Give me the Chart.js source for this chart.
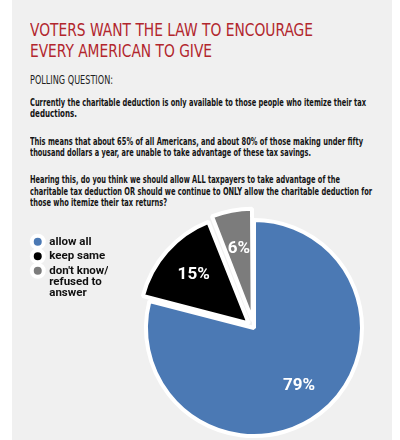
<!DOCTYPE html>
<html>
<head>
<meta charset="utf-8">
<script src="https://cdn.jsdelivr.net/npm/chart.js@4.4.1/dist/chart.umd.min.js"></script>
<style>
  html, body { margin: 0; padding: 0; background: #fff; }
  body { width: 400px; height: 440px; position: relative; overflow: hidden; }
  .panel { position: absolute; left: 12px; top: 0; width: 380px; height: 440px; background: #f0f0f0; }
  .ln { position: absolute; left: 30px; white-space: nowrap; transform-origin: 0 50%; }
  .ln span { display: inline-block; }
  .title { font-family: "Liberation Sans Narrow", "DejaVu Sans Condensed", "Liberation Sans", sans-serif;
           font-size: 17.5px; height: 20px; line-height: 20px; color: #b2262d; }
  .kicker { font-family: "Liberation Sans Narrow", "DejaVu Sans Condensed", "Liberation Sans", sans-serif;
            font-size: 11.5px; height: 14px; line-height: 14px; color: #222; }
  .body { font-family: "Liberation Sans Narrow", "DejaVu Sans Condensed", "Liberation Sans", sans-serif;
          font-weight: bold; font-size: 11px; height: 12px; line-height: 12px; color: #141414; }
  #pie { position: absolute; left: 0; top: 200px; }
</style>
</head>
<body>
<div class="panel"></div>

<div class="ln title" style="top:20px" data-w="283"><span>VOTERS WANT THE LAW TO ENCOURAGE</span></div>
<div class="ln title" style="top:41px" data-w="182"><span>EVERY AMERICAN TO GIVE</span></div>
<div class="ln kicker" style="top:73px" data-w="83"><span>POLLING QUESTION:</span></div>

<div class="ln body" style="top:97px" data-w="336"><span>Currently the charitable deduction is only available to those people who itemize their tax</span></div>
<div class="ln body" style="top:108px" data-w="47"><span>deductions.</span></div>

<div class="ln body" style="top:136px" data-w="333"><span>This means that about 65% of all Americans, and about 80% of those making under fifty</span></div>
<div class="ln body" style="top:147px" data-w="281"><span>thousand dollars a year, are unable to take advantage of these tax savings.</span></div>

<div class="ln body" style="top:174px" data-w="310"><span>Hearing this, do you think we should allow ALL taxpayers to take advantage of the</span></div>
<div class="ln body" style="top:186px" data-w="342"><span>charitable tax deduction OR should we continue to ONLY allow the charitable deduction for</span></div>
<div class="ln body" style="top:197px" data-w="137"><span>those who itemize their tax returns?</span></div>

<canvas id="pie" width="400" height="240"></canvas>

<script>
// poll answers (legend text, one entry per slice)
const answers = ['allow all', 'keep same', ["don't know/", 'refused to', 'answer']];
// share of respondents, percent
const shares = [79, 15, 6];

// squeeze each text line to the width it has in the original
function fitLines() {
  document.querySelectorAll('.ln').forEach(el => {
    const w = el.firstElementChild.getBoundingClientRect().width;
    el.style.transform = 'scaleX(' + (parseFloat(el.dataset.w) / w) + ')';
  });
}
fitLines();

// percent labels inside the slices
const sliceLabels = {
  id: 'sliceLabels',
  afterDatasetsDraw(chart) {
    const ctx = chart.ctx;
    const meta = chart.getDatasetMeta(0);
    ctx.save();
    ctx.font = 'bold 17px Roboto, "DejaVu Sans", sans-serif';
    ctx.fillStyle = '#ffffff';
    ctx.textAlign = 'center';
    ctx.textBaseline = 'middle';
    meta.data.forEach((arc, i) => {
      const mid = (arc.startAngle + arc.endAngle) / 2;
      const d = (arc.options.offset || 0) / 4 + arc.outerRadius * 0.68;
      ctx.fillText(shares[i] + '%', arc.x + Math.cos(mid) * d, arc.y + Math.sin(mid) * d);
    });
    ctx.restore();
  }
};

// fixed legend width so the pie sits where it should
const legendWidth = {
  id: 'legendWidth',
  beforeInit(chart) {
    const fit = chart.legend.fit;
    chart.legend.fit = function () {
      fit.call(this);
      this.width = 79;
    };
  }
};

new Chart(document.getElementById('pie'), {
  type: 'pie',
  data: {
    labels: answers,
    datasets: [{
      data: shares,
      backgroundColor: ['#4b79b4', '#000000', '#7c7c7c'],
      borderColor: '#ffffff',
      borderWidth: 4,
      offset: [0, 28, 28],
      radius: 108,
      clip: false
    }]
  },
  options: {
    responsive: false,
    animation: false,
    layout: { padding: { left: 29, top: 33, right: 0, bottom: 17 } },
    plugins: {
      legend: {
        position: 'left',
        align: 'start',
        labels: {
          usePointStyle: true,
          pointStyle: 'circle',
          boxWidth: 12,
          boxHeight: 8.5,
          padding: 3,
          color: '#111',
          font: { family: 'Roboto', weight: 'bold', size: 11.5, lineHeight: 0.98 }
        }
      },
      tooltip: { enabled: false }
    }
  },
  plugins: [sliceLabels, legendWidth]
});
</script>
</body>
</html>
